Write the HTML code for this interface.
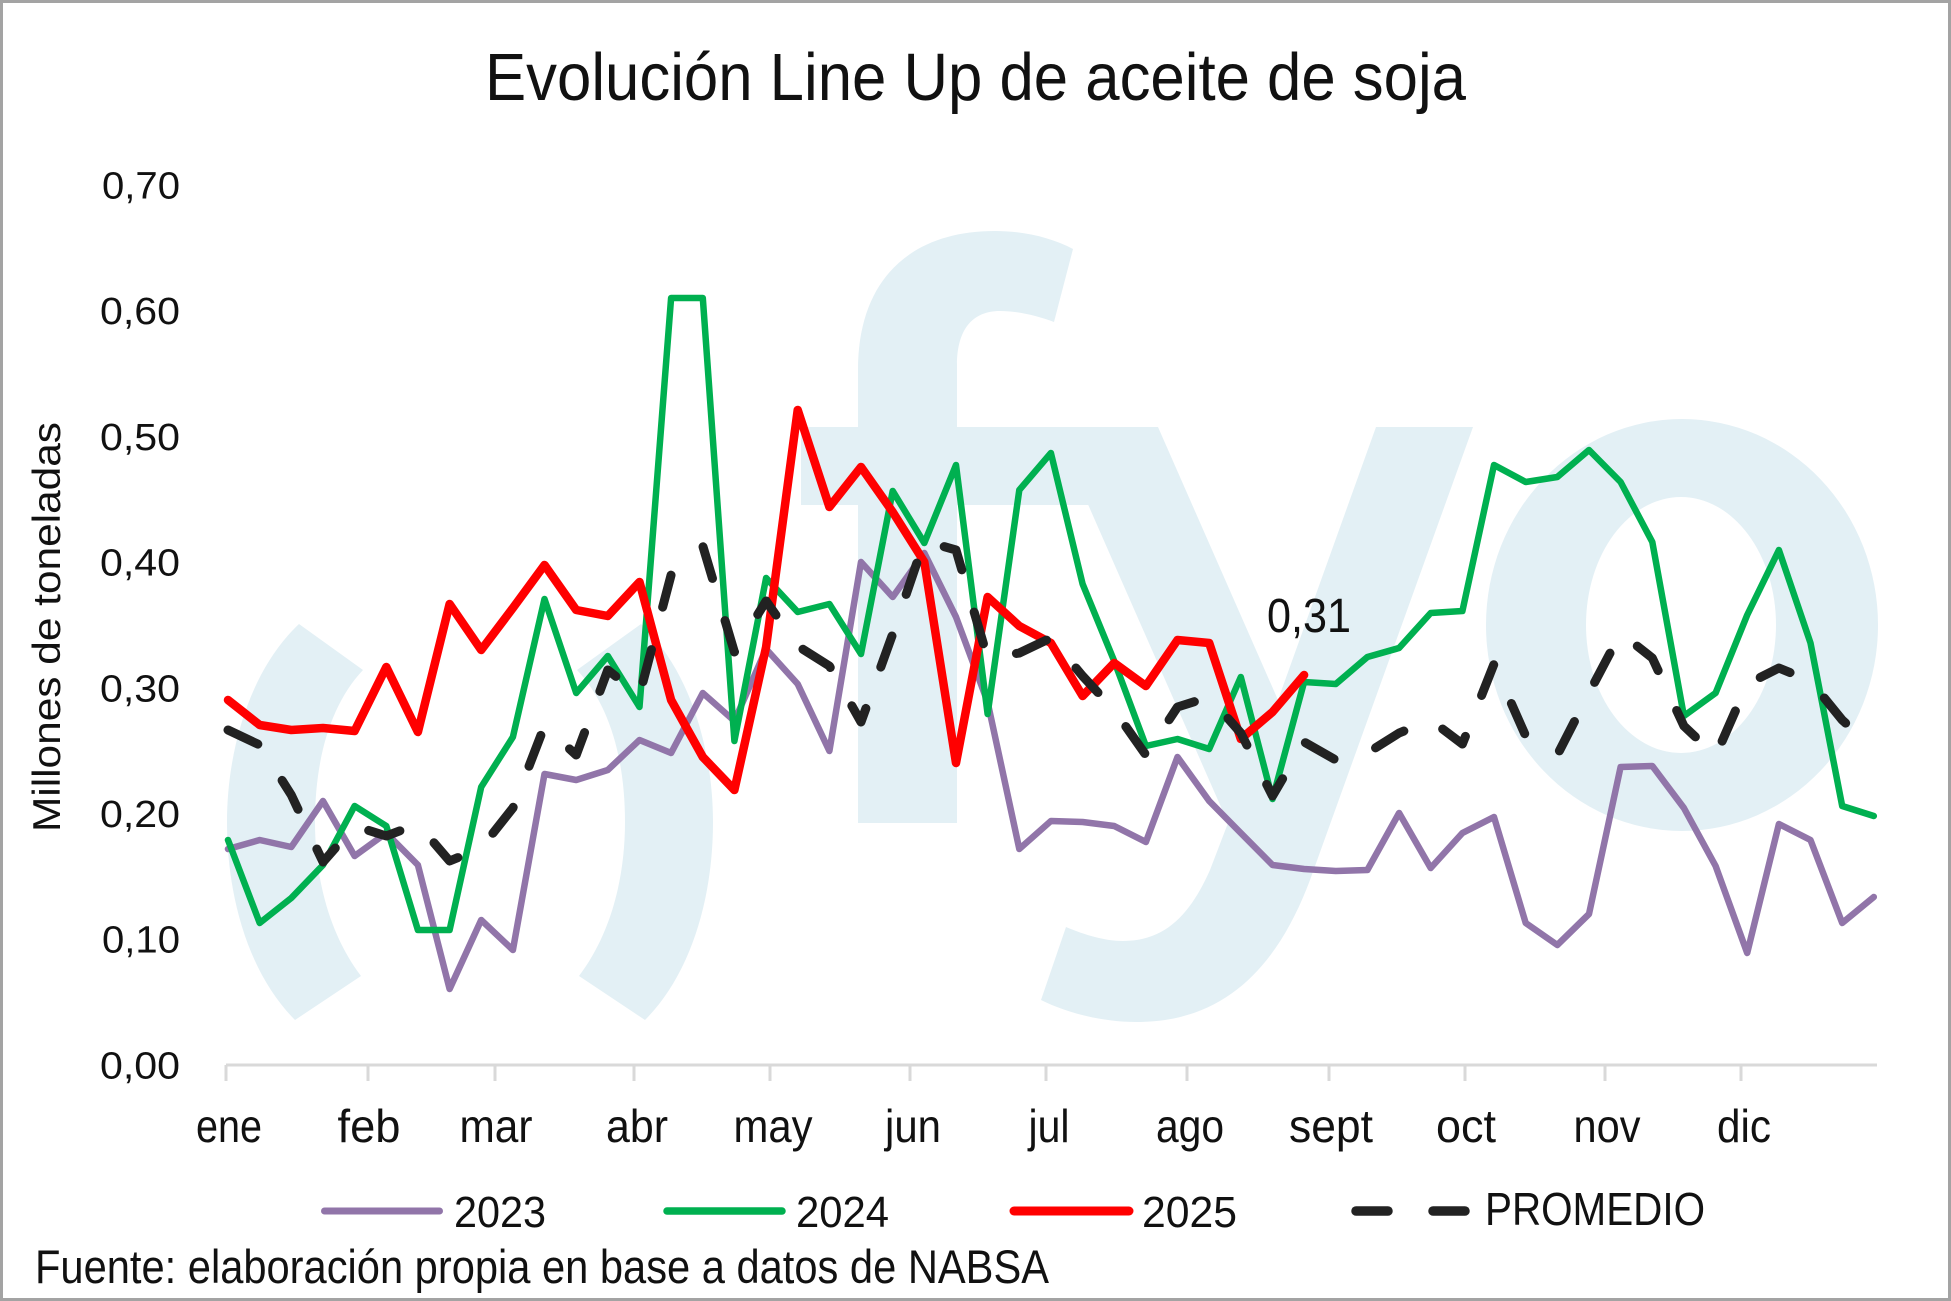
<!DOCTYPE html>
<html>
<head>
<meta charset="utf-8">
<style>
  html, body { margin:0; padding:0; background:#fff; }
  svg { display:block; }
  text { font-family: "Liberation Sans", "DejaVu Sans", sans-serif; fill:#111; }
</style>
</head>
<body>
<svg width="1951" height="1301" viewBox="0 0 1951 1301" xmlns="http://www.w3.org/2000/svg">
  <rect x="0" y="0" width="1951" height="1301" fill="#ffffff"/>
  <rect x="1.5" y="1.5" width="1948" height="1298" fill="none" stroke="#a3a3a3" stroke-width="3"/>

  <!-- watermark -->
  <g fill="#e3f0f5">
    <path d="M299 624 C250 670 227 750 227 822 C227 900 250 975 295 1020 L361 976 C330 935 315 880 315 822 C315 760 330 705 363 670 Z"/>
    <path d="M641 624 C690 670 713 750 713 822 C713 900 690 975 645 1020 L579 976 C610 935 625 880 625 822 C625 760 610 705 577 670 Z"/>
    <path d="M858 823 L858 505 L801 505 L801 427 L858 427 L858 370 C858 280 910 231 995 231 C1025 231 1052 238 1073 249 L1054 322 C1038 316 1018 311 1000 311 C972 311 957 330 957 365 L957 427 L1100 427 L1100 505 L957 505 L957 823 Z"/>
    <path d="M1054 427 L1158 427 L1278 700 L1376 427 L1473 427 L1310 880 C1280 960 1230 1022 1137 1022 C1100 1022 1065 1012 1041 1000 L1066 927 C1085 935 1105 941 1123 941 C1165 941 1190 915 1210 870 L1228 823 Z"/>
    <path fill-rule="evenodd" d="M1486 625 A196 206 0 1 0 1878 625 A196 206 0 1 0 1486 625 Z M1586 625 A95 128 0 1 0 1776 625 A95 128 0 1 0 1586 625 Z"/>
  </g>

  <!-- title -->
  <text x="485" y="100" font-size="67" textLength="981" lengthAdjust="spacingAndGlyphs">Evolución Line Up de aceite de soja</text>

  <!-- y tick labels -->
  <g font-size="38" text-anchor="end">
    <text x="180" y="198.5" textLength="78" lengthAdjust="spacingAndGlyphs">0,70</text>
    <text x="180" y="324.2" textLength="80" lengthAdjust="spacingAndGlyphs">0,60</text>
    <text x="180" y="449.9" textLength="80" lengthAdjust="spacingAndGlyphs">0,50</text>
    <text x="180" y="575.6" textLength="80" lengthAdjust="spacingAndGlyphs">0,40</text>
    <text x="180" y="701.3" textLength="80" lengthAdjust="spacingAndGlyphs">0,30</text>
    <text x="180" y="827" textLength="80" lengthAdjust="spacingAndGlyphs">0,20</text>
    <text x="180" y="952.7" textLength="78" lengthAdjust="spacingAndGlyphs">0,10</text>
    <text x="180" y="1078.4" textLength="80" lengthAdjust="spacingAndGlyphs">0,00</text>
  </g>

  <!-- y axis title -->
  <text transform="translate(60,627) rotate(-90)" text-anchor="middle" font-size="39" textLength="410" lengthAdjust="spacingAndGlyphs">Millones de toneladas</text>

  <!-- x axis -->
  <g stroke="#d9d9d9" stroke-width="3" fill="none">
    <line x1="226" y1="1065" x2="1877" y2="1065"/>
    <path d="M226 1065V1081 M368 1065V1081 M495 1065V1081 M634 1065V1081 M770 1065V1081 M910 1065V1081 M1046 1065V1081 M1187 1065V1081 M1329 1065V1081 M1465 1065V1081 M1605 1065V1081 M1741 1065V1081"/>
  </g>

  <!-- month labels -->
  <g font-size="46" text-anchor="middle">
    <text x="229" y="1142" textLength="66" lengthAdjust="spacingAndGlyphs">ene</text>
    <text x="369" y="1142" textLength="63" lengthAdjust="spacingAndGlyphs">feb</text>
    <text x="496" y="1142" textLength="73" lengthAdjust="spacingAndGlyphs">mar</text>
    <text x="637" y="1142" textLength="62" lengthAdjust="spacingAndGlyphs">abr</text>
    <text x="773" y="1142" textLength="79" lengthAdjust="spacingAndGlyphs">may</text>
    <text x="913" y="1142" textLength="56" lengthAdjust="spacingAndGlyphs">jun</text>
    <text x="1049" y="1142" textLength="41" lengthAdjust="spacingAndGlyphs">jul</text>
    <text x="1190" y="1142" textLength="68" lengthAdjust="spacingAndGlyphs">ago</text>
    <text x="1331" y="1142" textLength="84" lengthAdjust="spacingAndGlyphs">sept</text>
    <text x="1466" y="1142" textLength="60" lengthAdjust="spacingAndGlyphs">oct</text>
    <text x="1607" y="1142" textLength="67" lengthAdjust="spacingAndGlyphs">nov</text>
    <text x="1744" y="1142" textLength="54" lengthAdjust="spacingAndGlyphs">dic</text>
  </g>

  <!-- series -->
  <g fill="none" stroke-linejoin="round" stroke-linecap="round">
    <polyline stroke="#9175a9" stroke-width="6.5" points="228,849 259.7,840 291.3,847 323,801 354.6,856 386.3,833 417.9,865 449.6,989 481.2,920 512.9,950 544.5,774 576.2,780 607.8,770 639.5,740 671.1,753 702.8,693 734.4,721 766.1,649 797.7,684 829.4,751 861,562 892.7,597 924.3,553 956,617 987.6,702 1019.3,849 1050.9,821 1082.6,822 1114.2,826 1145.9,842 1177.5,757 1209.2,801 1240.8,833 1272.5,865 1304.1,869 1335.8,871 1367.4,870 1399.1,813 1430.7,868 1462.4,833 1494,817 1525.7,923 1557.3,945 1589,914 1620.6,767 1652.3,766 1683.9,808 1715.6,866 1747.2,953 1778.9,824 1810.5,840 1842.2,923 1873.8,897"/>
    <polyline stroke="#00b050" stroke-width="6.5" points="228,840 259.7,923 291.3,898 323,865 354.6,806 386.3,826 417.9,930 449.6,930 481.2,787 512.9,737 544.5,599 576.2,693 607.8,656 639.5,707 671.1,298 702.8,298 734.4,741 766.1,578 797.7,612 829.4,604 861,654 892.7,491 924.3,543 956,465 987.6,714 1019.3,490 1050.9,453 1082.6,584 1114.2,661 1145.9,746 1177.5,739 1209.2,749 1240.8,677 1272.5,799 1304.1,682 1335.8,684 1367.4,657 1399.1,648 1430.7,613 1462.4,611 1494,465 1525.7,482 1557.3,477 1589,450 1620.6,482 1652.3,542 1683.9,716 1715.6,693 1747.2,615 1778.9,550 1810.5,643 1842.2,806 1873.8,816"/>
    <polyline stroke="#ff0000" stroke-width="8.5" points="228,700 259.7,725 291.3,730 323,728 354.6,731 386.3,667 417.9,732 449.6,604 481.2,650 512.9,608 544.5,565 576.2,610 607.8,616 639.5,582 671.1,700 702.8,757 734.4,790 766.1,647 797.7,410 829.4,507 861,467 892.7,512 924.3,562 956,763 987.6,597 1019.3,626 1050.9,643 1082.6,696 1114.2,663 1145.9,686 1177.5,640 1209.2,643 1240.8,739 1272.5,712 1304.1,675"/>
    <polyline stroke="#222222" stroke-width="9" stroke-dasharray="33 44" points="228,730 259.7,745 291.3,795 323,862 354.6,826 386.3,836 417.9,824 449.6,861 481.2,848 512.9,808 544.5,726 576.2,755 607.8,670 639.5,695 671.1,575 702.8,546 734.4,652 766.1,601 797.7,646 829.4,666 861,722 892.7,634 924.3,541 956,550 987.6,658 1019.3,653 1050.9,638 1082.6,676 1114.2,710 1145.9,755 1177.5,707 1209.2,697 1240.8,733 1272.5,796 1304.1,742 1335.8,760 1367.4,753 1399.1,733 1430.7,720 1462.4,744 1494,664 1525.7,736 1557.3,755 1589,693 1620.6,633 1652.3,658 1683.9,726 1715.6,756 1747.2,684 1778.9,668 1810.5,681 1842.2,720 1873.8,748"/>
  </g>

  <!-- data label -->
  <text x="1267" y="632" font-size="48" textLength="84" lengthAdjust="spacingAndGlyphs">0,31</text>

  <!-- legend -->
  <g stroke-linecap="round" fill="none">
    <line x1="324.5" y1="1211" x2="439.5" y2="1211" stroke="#9175a9" stroke-width="7"/>
    <line x1="667" y1="1211" x2="782" y2="1211" stroke="#00b050" stroke-width="7.5"/>
    <line x1="1014" y1="1211" x2="1129" y2="1211" stroke="#ff0000" stroke-width="9"/>
    <line x1="1356" y1="1211" x2="1388" y2="1211" stroke="#222222" stroke-width="9.5"/>
    <line x1="1433" y1="1211" x2="1465" y2="1211" stroke="#222222" stroke-width="9.5"/>
  </g>
  <g font-size="44">
    <text x="454" y="1227" textLength="92" lengthAdjust="spacingAndGlyphs">2023</text>
    <text x="796" y="1227" textLength="93" lengthAdjust="spacingAndGlyphs">2024</text>
    <text x="1142" y="1227" textLength="95" lengthAdjust="spacingAndGlyphs">2025</text>
    <text x="1485" y="1225" font-size="46" textLength="220" lengthAdjust="spacingAndGlyphs">PROMEDIO</text>
  </g>

  <!-- source -->
  <text x="35" y="1283" font-size="47" textLength="1014" lengthAdjust="spacingAndGlyphs">Fuente: elaboración propia en base a datos de NABSA</text>
</svg>
</body>
</html>
